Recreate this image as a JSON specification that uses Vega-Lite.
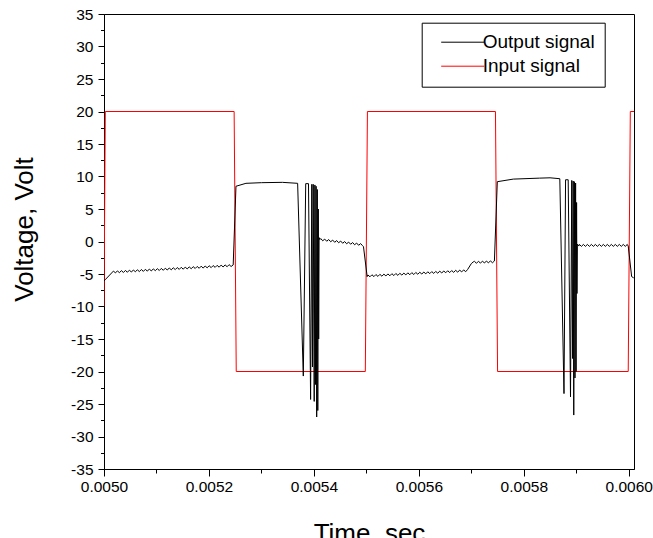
{
  "$schema": "https://vega.github.io/schema/vega-lite/v6.json",
  "width": 530,
  "height": 455,
  "autosize": {"type": "none"},
  "padding": {"left": 104, "top": 14, "right": 19, "bottom": 69},
  "config": {
    "font": "Liberation Sans",
    "view": {"stroke": "black", "strokeWidth": 1},
    "axis": {"grid": false, "domainColor": "black", "tickColor": "black", "labelColor": "black", "titleColor": "black", "labelFont": "Liberation Sans", "titleFont": "Liberation Sans", "titleFontWeight": "normal", "labelFontSize": 15.5, "titleFontSize": 26, "labelOverlap": false, "labelFlush": false, "domainWidth": 1, "tickWidth": 1}
  },
  "resolve": {"axis": {"y": "independent"}},
  "layer": [
    {
      "data": {"values": [
        {"t": 0.0050000, "v": -10},
        {"t": 0.0050025, "v": 20},
        {"t": 0.0052480, "v": 20},
        {"t": 0.0052520, "v": -20},
        {"t": 0.0054980, "v": -20},
        {"t": 0.0055020, "v": 20},
        {"t": 0.0057460, "v": 20},
        {"t": 0.0057500, "v": -20},
        {"t": 0.0059990, "v": -20},
        {"t": 0.0060030, "v": 20},
        {"t": 0.0060100, "v": 20}
      ]},
      "mark": {"type": "line", "strokeWidth": 1, "clip": true},
      "encoding": {
        "x": {"field": "t", "type": "quantitative", "scale": {"domain": [0.005, 0.00601], "nice": false, "zero": false},
          "axis": {"title": "Time, sec", "values": [0.005, 0.0051, 0.0052, 0.0053, 0.0054, 0.0055, 0.0056, 0.0057, 0.0058, 0.0059, 0.006],
            "labelExpr": "round(datum.value*10000)%2==0 ? format(datum.value,'.4f') : ''",
            "tickSize": {"condition": {"test": "round(datum.value*10000)%2!=0", "value": 4}, "value": 7},
            "labelOverlap": false, "labelFlush": false,
            "labelPadding": 3, "titleY": 72, "titleBaseline": "alphabetic"}},
        "y": {"field": "v", "type": "quantitative", "scale": {"domain": [-35, 35], "nice": false, "zero": false},
          "axis": {"title": "Voltage, Volt", "orient": "left", "values": [-35, -30, -25, -20, -15, -10, -5, 0, 5, 10, 15, 20, 25, 30, 35],
            "labelExpr": "toString(datum.value)", "tickSize": 6,
            "labelOverlap": false, "labelFlush": false,
            "labelPadding": 5, "titleAngle": 270, "titleAlign": "center", "titleBaseline": "middle", "titleX": -80, "titleY": 215}},
        "color": {"datum": "Input signal", "type": "nominal",
          "scale": {"domain": ["Output signal", "Input signal"], "range": ["black", "red"]},
          "legend": {"orient": "none", "legendX": 317.7, "legendY": 8.7, "title": null, "symbolType": "M0,0H43", "symbolSize": 4, "symbolStrokeWidth": 1, "labelFontSize": 19, "labelOffset": 32, "padding": 10, "rowPadding": 4, "strokeColor": "black", "fillColor": "white", "labelFont": "Liberation Sans", "labelColor": "black"}}
      }
    },
    {
      "data": {"values": [
        {"t": 0.0050000, "v": -6.1},
        {"t": 0.0050020, "v": -5.9},
        {"t": 0.0050180, "v": -4.55},
        {"t": 0.0050218, "v": -4.83},
        {"t": 0.0050256, "v": -4.52},
        {"t": 0.0050294, "v": -4.80},
        {"t": 0.0050332, "v": -4.48},
        {"t": 0.0050370, "v": -4.77},
        {"t": 0.0050408, "v": -4.45},
        {"t": 0.0050446, "v": -4.73},
        {"t": 0.0050484, "v": -4.41},
        {"t": 0.0050522, "v": -4.70},
        {"t": 0.0050560, "v": -4.38},
        {"t": 0.0050598, "v": -4.66},
        {"t": 0.0050636, "v": -4.35},
        {"t": 0.0050674, "v": -4.63},
        {"t": 0.0050712, "v": -4.31},
        {"t": 0.0050750, "v": -4.60},
        {"t": 0.0050788, "v": -4.28},
        {"t": 0.0050826, "v": -4.56},
        {"t": 0.0050864, "v": -4.24},
        {"t": 0.0050902, "v": -4.53},
        {"t": 0.0050940, "v": -4.21},
        {"t": 0.0050978, "v": -4.49},
        {"t": 0.0051016, "v": -4.18},
        {"t": 0.0051054, "v": -4.46},
        {"t": 0.0051092, "v": -4.14},
        {"t": 0.0051130, "v": -4.43},
        {"t": 0.0051168, "v": -4.11},
        {"t": 0.0051206, "v": -4.39},
        {"t": 0.0051244, "v": -4.07},
        {"t": 0.0051282, "v": -4.36},
        {"t": 0.0051320, "v": -4.04},
        {"t": 0.0051358, "v": -4.32},
        {"t": 0.0051396, "v": -4.01},
        {"t": 0.0051434, "v": -4.29},
        {"t": 0.0051472, "v": -3.97},
        {"t": 0.0051510, "v": -4.26},
        {"t": 0.0051548, "v": -3.94},
        {"t": 0.0051586, "v": -4.22},
        {"t": 0.0051624, "v": -3.90},
        {"t": 0.0051662, "v": -4.19},
        {"t": 0.0051700, "v": -3.87},
        {"t": 0.0051738, "v": -4.15},
        {"t": 0.0051776, "v": -3.84},
        {"t": 0.0051814, "v": -4.12},
        {"t": 0.0051852, "v": -3.80},
        {"t": 0.0051890, "v": -4.09},
        {"t": 0.0051928, "v": -3.77},
        {"t": 0.0051966, "v": -4.05},
        {"t": 0.0052004, "v": -3.73},
        {"t": 0.0052042, "v": -4.02},
        {"t": 0.0052080, "v": -3.70},
        {"t": 0.0052118, "v": -3.98},
        {"t": 0.0052156, "v": -3.67},
        {"t": 0.0052194, "v": -3.95},
        {"t": 0.0052232, "v": -3.63},
        {"t": 0.0052270, "v": -3.92},
        {"t": 0.0052308, "v": -3.60},
        {"t": 0.0052346, "v": -3.88},
        {"t": 0.0052384, "v": -3.56},
        {"t": 0.0052422, "v": -3.85},
        {"t": 0.0052462, "v": -3.6},
        {"t": 0.0052515, "v": 8.5},
        {"t": 0.0052705, "v": 8.95},
        {"t": 0.0053000, "v": 9.05},
        {"t": 0.0053400, "v": 9.1},
        {"t": 0.0053690, "v": 8.95},
        {"t": 0.0053798, "v": -20.7},
        {"t": 0.0053844, "v": 8.9},
        {"t": 0.0053897, "v": 8.9},
        {"t": 0.0053937, "v": -24.3},
        {"t": 0.0053960, "v": 8.8},
        {"t": 0.0053973, "v": -19.3},
        {"t": 0.0053987, "v": 8.8},
        {"t": 0.0054006, "v": -24.6},
        {"t": 0.0054019, "v": 8.7},
        {"t": 0.0054030, "v": -22},
        {"t": 0.0054042, "v": 8.5},
        {"t": 0.0054053, "v": -27},
        {"t": 0.0054065, "v": 8},
        {"t": 0.0054074, "v": -26},
        {"t": 0.0054084, "v": 5},
        {"t": 0.0054091, "v": -15},
        {"t": 0.0054099, "v": 0.6},
        {"t": 0.0054114, "v": 0.3},
        {"t": 0.0054130, "v": 0.45},
        {"t": 0.0054168, "v": 0.11},
        {"t": 0.0054206, "v": 0.37},
        {"t": 0.0054244, "v": 0.04},
        {"t": 0.0054282, "v": 0.30},
        {"t": 0.0054320, "v": -0.04},
        {"t": 0.0054358, "v": 0.22},
        {"t": 0.0054396, "v": -0.12},
        {"t": 0.0054434, "v": 0.14},
        {"t": 0.0054472, "v": -0.19},
        {"t": 0.0054510, "v": 0.07},
        {"t": 0.0054548, "v": -0.27},
        {"t": 0.0054586, "v": -0.01},
        {"t": 0.0054624, "v": -0.35},
        {"t": 0.0054662, "v": -0.09},
        {"t": 0.0054700, "v": -0.42},
        {"t": 0.0054738, "v": -0.16},
        {"t": 0.0054776, "v": -0.50},
        {"t": 0.0054814, "v": -0.24},
        {"t": 0.0054852, "v": -0.58},
        {"t": 0.0054890, "v": -0.32},
        {"t": 0.0054928, "v": -0.65},
        {"t": 0.0054945, "v": -0.8},
        {"t": 0.0055015, "v": -5.4},
        {"t": 0.0055030, "v": -5.15},
        {"t": 0.0055068, "v": -5.43},
        {"t": 0.0055106, "v": -5.12},
        {"t": 0.0055144, "v": -5.40},
        {"t": 0.0055182, "v": -5.08},
        {"t": 0.0055220, "v": -5.37},
        {"t": 0.0055258, "v": -5.05},
        {"t": 0.0055296, "v": -5.34},
        {"t": 0.0055334, "v": -5.02},
        {"t": 0.0055372, "v": -5.30},
        {"t": 0.0055410, "v": -4.99},
        {"t": 0.0055448, "v": -5.27},
        {"t": 0.0055486, "v": -4.95},
        {"t": 0.0055524, "v": -5.24},
        {"t": 0.0055562, "v": -4.92},
        {"t": 0.0055600, "v": -5.21},
        {"t": 0.0055638, "v": -4.89},
        {"t": 0.0055676, "v": -5.17},
        {"t": 0.0055714, "v": -4.86},
        {"t": 0.0055752, "v": -5.14},
        {"t": 0.0055790, "v": -4.82},
        {"t": 0.0055828, "v": -5.11},
        {"t": 0.0055866, "v": -4.79},
        {"t": 0.0055904, "v": -5.08},
        {"t": 0.0055942, "v": -4.76},
        {"t": 0.0055980, "v": -5.04},
        {"t": 0.0056018, "v": -4.73},
        {"t": 0.0056056, "v": -5.01},
        {"t": 0.0056094, "v": -4.69},
        {"t": 0.0056132, "v": -4.98},
        {"t": 0.0056170, "v": -4.66},
        {"t": 0.0056208, "v": -4.94},
        {"t": 0.0056246, "v": -4.63},
        {"t": 0.0056284, "v": -4.91},
        {"t": 0.0056322, "v": -4.60},
        {"t": 0.0056360, "v": -4.88},
        {"t": 0.0056398, "v": -4.56},
        {"t": 0.0056436, "v": -4.85},
        {"t": 0.0056474, "v": -4.53},
        {"t": 0.0056512, "v": -4.81},
        {"t": 0.0056550, "v": -4.50},
        {"t": 0.0056588, "v": -4.78},
        {"t": 0.0056626, "v": -4.47},
        {"t": 0.0056664, "v": -4.75},
        {"t": 0.0056702, "v": -4.43},
        {"t": 0.0056740, "v": -4.72},
        {"t": 0.0056778, "v": -4.40},
        {"t": 0.0056816, "v": -4.68},
        {"t": 0.0056854, "v": -4.37},
        {"t": 0.0056892, "v": -4.65},
        {"t": 0.0056930, "v": -4.3},
        {"t": 0.0057000, "v": -3.4},
        {"t": 0.0057035, "v": -3.15},
        {"t": 0.0057060, "v": -3.05},
        {"t": 0.0057098, "v": -3.35},
        {"t": 0.0057136, "v": -3.04},
        {"t": 0.0057174, "v": -3.33},
        {"t": 0.0057212, "v": -3.02},
        {"t": 0.0057250, "v": -3.31},
        {"t": 0.0057288, "v": -3.00},
        {"t": 0.0057326, "v": -3.29},
        {"t": 0.0057364, "v": -2.98},
        {"t": 0.0057402, "v": -3.27},
        {"t": 0.0057440, "v": -3.0},
        {"t": 0.0057495, "v": 9.2},
        {"t": 0.0057800, "v": 9.6},
        {"t": 0.0058300, "v": 9.75},
        {"t": 0.0058500, "v": 9.8},
        {"t": 0.0058686, "v": 9.66},
        {"t": 0.0058766, "v": -23.4},
        {"t": 0.0058796, "v": 9.5},
        {"t": 0.0058846, "v": 9.5},
        {"t": 0.0058890, "v": -23.9},
        {"t": 0.0058914, "v": 9.4},
        {"t": 0.0058930, "v": -18},
        {"t": 0.0058941, "v": 9.3},
        {"t": 0.0058952, "v": -26.7},
        {"t": 0.0058964, "v": 9.2},
        {"t": 0.0058975, "v": -21},
        {"t": 0.0058987, "v": 9},
        {"t": 0.0058996, "v": -20},
        {"t": 0.0059006, "v": 6},
        {"t": 0.0059013, "v": -8},
        {"t": 0.0059021, "v": -0.4},
        {"t": 0.0059048, "v": -0.7},
        {"t": 0.0059060, "v": -0.45},
        {"t": 0.0059098, "v": -0.75},
        {"t": 0.0059136, "v": -0.45},
        {"t": 0.0059174, "v": -0.75},
        {"t": 0.0059212, "v": -0.45},
        {"t": 0.0059250, "v": -0.75},
        {"t": 0.0059288, "v": -0.45},
        {"t": 0.0059326, "v": -0.75},
        {"t": 0.0059364, "v": -0.45},
        {"t": 0.0059402, "v": -0.75},
        {"t": 0.0059440, "v": -0.45},
        {"t": 0.0059478, "v": -0.75},
        {"t": 0.0059516, "v": -0.45},
        {"t": 0.0059554, "v": -0.75},
        {"t": 0.0059592, "v": -0.45},
        {"t": 0.0059630, "v": -0.75},
        {"t": 0.0059668, "v": -0.45},
        {"t": 0.0059706, "v": -0.75},
        {"t": 0.0059744, "v": -0.45},
        {"t": 0.0059782, "v": -0.75},
        {"t": 0.0059820, "v": -0.45},
        {"t": 0.0059858, "v": -0.75},
        {"t": 0.0059896, "v": -0.45},
        {"t": 0.0059934, "v": -0.75},
        {"t": 0.0059972, "v": -0.45},
        {"t": 0.0059990, "v": -0.7},
        {"t": 0.0060055, "v": -5.4},
        {"t": 0.0060095, "v": -5.6}
      ]},
      "mark": {"type": "line", "strokeWidth": 1, "clip": true},
      "encoding": {
        "x": {"field": "t", "type": "quantitative"},
        "y": {"field": "v", "type": "quantitative",
          "axis": {"orient": "left", "title": null, "values": [-32.5, -27.5, -22.5, -17.5, -12.5, -7.5, -2.5, 2.5, 7.5, 12.5, 17.5, 22.5, 27.5, 32.5], "labels": false, "domain": false, "tickSize": 3.5}},
        "color": {"datum": "Output signal", "type": "nominal"}
      }
    }
  ]
}
